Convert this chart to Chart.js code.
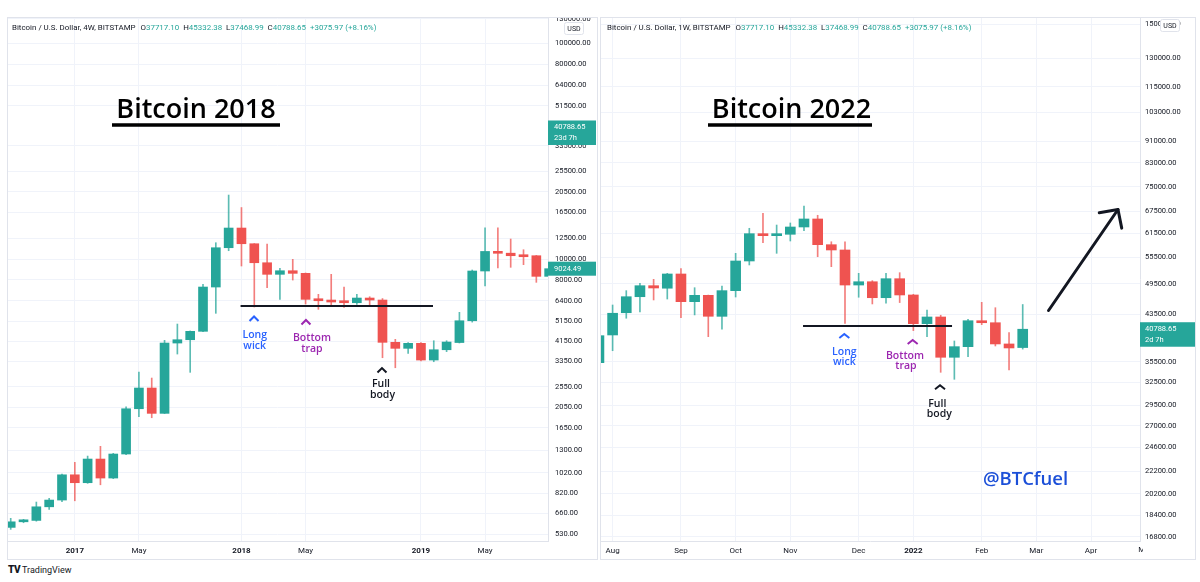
<!DOCTYPE html>
<html><head><meta charset="utf-8">
<script src="https://cdn.jsdelivr.net/npm/chart.js@4.4.1/dist/chart.umd.min.js"></script>
<style>
html,body{margin:0;padding:0;background:#fff;width:1200px;height:582px;overflow:hidden;font-family:Roboto,sans-serif}
canvas{position:absolute;display:block}
#lc{left:7px;top:17px}
#rc{left:600px;top:17px}
#logo{position:absolute;left:8px;top:564px;font:9px Roboto,sans-serif;color:#131722;white-space:nowrap}
#logo b{font-weight:900;font-size:10px;letter-spacing:-0.5px;margin-right:2px}
</style></head><body>
<canvas id="lc" width="591" height="543"></canvas>
<canvas id="rc" width="596" height="543"></canvas>
<div id="logo"><b>TV</b>TradingView</div>
<script>
// ---------- data: left panel (BTC/USD, 4W candles, Aug 2016 - Aug 2019) ----------
const leftOpen  = [569,604,613,709,762,998,917,1181,964,1246,2021,2522,1924,4078,4225,4622,7419,11290,13934,11782,9617,8497,8830,8586,6504,6408,6330,6273,6575,6457,4109,3854,4065,3401,3796,4100,5175,8804,10850,10650,10400,10366,8316];
const leftHigh  = [627,620,746,776,1006,1140,1219,1353,1255,2065,2992,2806,4198,4996,4640,7638,11910,19822,17346,11800,11745,9062,9975,8620,6863,8497,7419,6863,6688,6560,4243,4100,4100,4180,4180,5661,8899,13981,13981,12390,11050,10400,9600];
const leftLow   = [557,598,608,690,748,756,911,897,958,1238,1856,1836,1920,3626,2982,4600,5602,10935,9286,5992,7362,6504,7993,6186,5846,6057,5973,6168,6057,3486,3132,3654,3370,3340,3720,4080,5100,7499,9090,9157,9418,7800,7700];
const leftClose = [604,613,709,762,998,917,1181,964,1246,2021,2522,1924,4078,4225,4622,7419,11290,13934,11782,9617,8497,8830,8586,6504,6408,6320,6273,6596,6457,4109,3854,4065,3401,3796,4122,5175,8804,10850,10637,10366,10255,8316,9024.49];
const leftPriceTicks = [530,660,820,1020,1300,1650,2050,2550,3350,4150,5150,6400,8000,10000,12500,16500,20500,25500,33500,51500,64000,80000,100000,130000];
const leftTimeTickPos = [5,10,18,23,32,37];
const leftTimeTickLabels = ['2017','May','2018','May','2019','May'];

// ---------- data: right panel (BTC/USD, 1W candles, Jul 2021 - Feb 2022) ----------
const rightOpen  = [35360,39800,43770,46870,49130,48600,51650,45890,47150,43100,48100,54600,61360,60840,61200,63140,65340,58540,57230,49270,49970,46670,50620,47220,41770,42980,36180,37860,42300,41940,38300,37717.10];
const rightHigh  = [42300,45240,48100,49630,50490,51800,52830,48710,47200,49070,56420,62790,66950,63670,64230,69070,66380,59280,59280,51800,50200,51800,51940,47360,44280,43300,38790,42550,45760,44720,40190,45332.38];
const rightLow   = [35200,37210,42750,43900,46220,46410,42870,43360,39510,40780,46810,53680,59050,56420,59470,62150,55610,53290,41830,46760,45440,45580,45710,40550,39510,33930,32930,36270,41590,37970,34260,37468.99];
const rightClose = [39680,43670,46870,49130,48650,51650,45890,47150,43110,48100,54600,61360,60840,61200,63140,65340,58540,57230,49270,49970,46670,50620,47220,41770,42980,36180,37860,42300,41940,38300,37650,40788.65];
const rightPriceTicks = [16800,18400,20200,22200,24600,27000,29500,32500,35500,43500,49500,55500,61500,67500,75000,83000,91000,103000,115000,130000,150000];
const rightTimeTickPos = [0,5,9,13,18,22,27,31,35,39];
const rightTimeTickLabels = ['Aug','Sep','Oct','Nov','Dec','2022','Feb','Mar','Apr','May'];

// ---------- styles ----------
const GREEN = '#26a69a', RED = '#ef5350', DARK = '#131722', BLUE = '#2962ff', PURPLE = '#9c27b0';
const GRID = '#f0f3fa', BORDER = '#e0e3eb';
Chart.defaults.font.family = 'Roboto';

function headerParts(tf) {
  return [['Bitcoin / U.S. Dollar, ' + tf + ', BITSTAMP', DARK, 5], ['O', DARK, 0], ['37717.10', GREEN, 4],
          ['H', DARK, 0], ['45332.38', GREEN, 4], ['L', DARK, 0], ['37468.99', GREEN, 4],
          ['C', DARK, 0], ['40788.65', GREEN, 4], ['+3075.97 (+8.16%)', GREEN, 0]];
}

function drawHeader(ctx, x, y, parts, target) {
  ctx.save();
  ctx.font = '8px Roboto';
  let w = 0;
  parts.forEach(p => { w += ctx.measureText(p[0]).width + p[2]; });
  const k = target / w;
  ctx.font = (8 * k).toFixed(2) + 'px Roboto';
  ctx.textBaseline = 'middle'; ctx.textAlign = 'left';
  let cx = x;
  parts.forEach(p => { ctx.fillStyle = p[1]; ctx.fillText(p[0], cx, y); cx += ctx.measureText(p[0]).width + p[2] * k; });
  ctx.restore();
}

function priceBox(ctx, x0, x1, yc, lines, textX) {
  const h = 14 + (lines.length - 1) * 10.5;
  ctx.fillStyle = GREEN;
  ctx.fillRect(x0, yc - 7, x1 - x0, h);
  ctx.fillStyle = '#fff'; ctx.font = '7.5px Roboto'; ctx.textBaseline = 'middle'; ctx.textAlign = 'left';
  lines.forEach((t, i) => ctx.fillText(t, textX, yc + i * 11));
}

function makeOverlay(cfg) {
  return {
    id: 'overlay',
    afterDatasetsDraw(chart) {
      const {ctx, chartArea: ca} = chart;
      const xs = chart.scales.x, ys = chart.scales.y;
      const px = v => xs.getPixelForValue(v), py = v => ys.getPixelForValue(v);
      ctx.save();
      ctx.beginPath(); ctx.rect(ca.left, ca.top, ca.right - ca.left, ca.bottom - ca.top); ctx.clip();
      // support line
      const s = cfg.support;
      ctx.strokeStyle = DARK; ctx.lineWidth = 2;
      ctx.beginPath(); ctx.moveTo(px(s.from), py(s.price)); ctx.lineTo(px(s.to), py(s.price)); ctx.stroke();
      // chevrons + notes
      cfg.marks.forEach(m => {
        const ax = px(m.x), ay = py(m.price);
        ctx.strokeStyle = m.color; ctx.lineWidth = 2; ctx.lineJoin = 'miter';
        ctx.beginPath(); ctx.moveTo(ax - m.hw, ay + m.h); ctx.lineTo(ax, ay); ctx.lineTo(ax + m.hw, ay + m.h); ctx.stroke();
        ctx.fillStyle = m.color; ctx.font = '600 10.5px "Open Sans"'; ctx.textAlign = 'center'; ctx.textBaseline = 'middle';
        m.lines.forEach(l => ctx.fillText(l[0], ax + l[1], ay + l[2]));
      });
      // arrow
      if (cfg.arrow) {
        const a = cfg.arrow;
        const x1 = px(a.from[0]), y1 = py(a.from[1]), x2 = px(a.to[0]), y2 = py(a.to[1]);
        ctx.strokeStyle = DARK; ctx.lineWidth = 3; ctx.lineCap = 'round'; ctx.lineJoin = 'round';
        ctx.beginPath(); ctx.moveTo(x1, y1); ctx.lineTo(x2, y2); ctx.stroke();
        const ang = Math.atan2(y1 - y2, x1 - x2);
        ctx.beginPath();
        ctx.moveTo(x2 + 19 * Math.cos(ang + 0.8), y2 + 19 * Math.sin(ang + 0.8));
        ctx.lineTo(x2, y2);
        ctx.lineTo(x2 + 19 * Math.cos(ang - 0.8), y2 + 19 * Math.sin(ang - 0.8));
        ctx.stroke();
      }
      // title
      const t = cfg.title;
      ctx.fillStyle = '#000'; ctx.font = '600 27px "Open Sans"'; ctx.textAlign = 'center'; ctx.textBaseline = 'alphabetic';
      ctx.fillText(t.text, t.cx, t.base);
      ctx.fillRect(t.u0, t.uy - 1.75, t.u1 - t.u0, 3.5);
      // watermark
      if (cfg.watermark) {
        const w = cfg.watermark;
        ctx.fillStyle = '#1b4fd8'; ctx.font = '600 18.5px "Open Sans"'; ctx.textAlign = 'center'; ctx.textBaseline = 'middle';
        ctx.fillText(w.text, w.cx, w.cy);
      }
      ctx.restore();
    },
    afterDraw(chart) {
      const {ctx, chartArea: ca, width, height} = chart;
      const ys = chart.scales.y, xs = chart.scales.x;
      ctx.save();
      if (cfg.cutLabel) {
        ctx.save();
        ctx.beginPath(); ctx.rect(ca.left, ca.bottom, ca.right + 3 - ca.left, height - ca.bottom); ctx.clip();
        ctx.fillStyle = DARK; ctx.font = '8px Roboto'; ctx.textAlign = 'center'; ctx.textBaseline = 'middle';
        ctx.fillText(cfg.cutLabel[1], xs.getPixelForValue(cfg.cutLabel[0]), ca.bottom + 9);
        ctx.restore();
      }
      cfg.boxes.forEach(b => priceBox(ctx, ca.right, ca.right + cfg.boxW, ys.getPixelForValue(b.value), b.lines, ca.right + cfg.boxText));
      const u = cfg.usd;
      ctx.fillStyle = '#fff'; ctx.strokeStyle = BORDER; ctx.lineWidth = 1;
      ctx.beginPath(); ctx.roundRect(u[0] + 0.5, u[1] + 0.5, 19, 12, 2); ctx.fill(); ctx.stroke();
      ctx.fillStyle = DARK; ctx.font = '7px Roboto'; ctx.textAlign = 'center'; ctx.textBaseline = 'middle';
      ctx.fillText('USD', u[0] + 10, u[1] + 7);
      drawHeader(ctx, cfg.header.x, 11, headerParts(cfg.header.tf), cfg.header.w);
      ctx.strokeStyle = BORDER; ctx.lineWidth = 1;
      ctx.strokeRect(0.5, 0.5, width - 1, height - 1);
      ctx.restore();
    }
  };
}

function makeChart(id, cfg) {
  const idx = i => i + cfg.x0;
  const colors = cfg.open.map((o, i) => cfg.close[i] >= o ? GREEN : RED);
  const wickColors = cfg.open.map((o, i) => cfg.close[i] >= o ? 'rgba(38,166,154,0.75)' : 'rgba(239,83,80,0.75)');
  return new Chart(document.getElementById(id), {
    type: 'bar',
    data: {
      datasets: [
        { label: 'body', data: cfg.open.map((o, i) => ({x: idx(i), y: [o, cfg.close[i]]})),
          backgroundColor: colors, borderWidth: 0, barThickness: cfg.bodyW, minBarLength: 2, grouped: false },
        { label: 'wick', data: cfg.open.map((o, i) => ({x: idx(i), y: [cfg.low[i], cfg.high[i]]})),
          backgroundColor: wickColors, borderWidth: 0, barThickness: 1, grouped: false }
      ]
    },
    options: {
      responsive: false, animation: false, devicePixelRatio: 1, events: [],
      layout: { padding: 0 },
      plugins: { legend: { display: false }, tooltip: { enabled: false } },
      scales: {
        x: {
          type: 'linear', min: cfg.xMin, max: cfg.xMax, offset: false, bounds: 'data',
          grid: { color: GRID, drawTicks: false, offset: false },
          border: { display: true, color: BORDER },
          afterBuildTicks: s => { s.ticks = cfg.timePos.filter(p => p >= cfg.xMin && p <= cfg.xMax).map(v => ({value: v})); },
          ticks: {
            autoSkip: false, maxRotation: 0, minRotation: 0, padding: 5, color: DARK,
            font: c => ({ family: 'Roboto', size: 8, weight: (c.tick && /^\d{4}$/.test(String(c.tick.label))) ? 'bold' : 'normal' }),
            callback: v => { const k = cfg.timePos.indexOf(v); return k >= 0 ? cfg.timeLabels[k] : ''; }
          },
          afterFit: s => { s.height = 19; s.paddingLeft = 0; s.paddingRight = 0; }
        },
        y: {
          type: 'logarithmic', position: 'right', min: cfg.yMin, max: cfg.yMax, bounds: 'data',
          grid: { color: GRID, drawTicks: false },
          border: { display: true, color: BORDER },
          afterBuildTicks: s => { s.ticks = cfg.priceTicks.map(v => ({value: v})); },
          ticks: { autoSkip: false, padding: cfg.yPad, color: DARK, font: { family: 'Roboto', size: 7.5 },
                   callback: v => Number(v).toFixed(2) },
          afterFit: s => { s.width = cfg.yWidth; s.paddingTop = 0; s.paddingBottom = 0; }
        }
      }
    },
    plugins: [makeOverlay(cfg)]
  });
}

makeChart('lc', {
  open: leftOpen, high: leftHigh, low: leftLow, close: leftClose, x0: 0,
  xMin: -0.289, xMax: 41.91, yMin: 492, yMax: 132800, yWidth: 50, yPad: 7, bodyW: 9,
  priceTicks: leftPriceTicks, timePos: leftTimeTickPos, timeLabels: leftTimeTickLabels,
  support: { from: 17.93, to: 32.94, price: 6060 },
  marks: [
    { x: 18.98, price: 5413, color: BLUE, hw: 4.5, h: 4.5, lines: [['Long', 0.7, 18.5], ['wick', 0.7, 29.5]] },
    { x: 23.03, price: 5214, color: PURPLE, hw: 4.5, h: 4.5, lines: [['Bottom', 6, 18], ['trap', 6, 29]] },
    { x: 28.96, price: 3122, color: DARK, hw: 4.5, h: 4.5, lines: [['Full', -1, 16], ['body', 0.5, 27]] }
  ],
  title: { text: 'Bitcoin 2018', cx: 189, base: 101, u0: 105, u1: 273, uy: 108 },
  boxes: [ { value: 40788.65, lines: ['40788.65', '23d 7h'] }, { value: 9024.49, lines: ['9024.49'] } ],
  boxW: 48, boxText: 6, usd: [557, 5],
  header: { x: 5, tf: '4W', w: 365 }
});

makeChart('rc', {
  open: rightOpen, high: rightHigh, low: rightLow, close: rightClose, x0: -1,
  xMin: -0.922, xMax: 38.58, yMin: 16500, yMax: 154900, yWidth: 56, yPad: 5, bodyW: 10,
  priceTicks: rightPriceTicks, timePos: rightTimeTickPos, timeLabels: rightTimeTickLabels,
  cutLabel: [39, 'May'],
  support: { from: 13.93, to: 24.83, price: 41350 },
  marks: [
    { x: 16.95, price: 39960, color: BLUE, hw: 5, h: 4, lines: [['Long', 0, 18.3], ['wick', 0, 28.3]] },
    { x: 21.95, price: 38960, color: PURPLE, hw: 5, h: 4, lines: [['Bottom', -7.7, 15.7], ['trap', -6.7, 25.7]] },
    { x: 23.95, price: 32100, color: DARK, hw: 5, h: 4, lines: [['Full', -2.7, 18.4], ['body', -0.7, 28.7]] }
  ],
  arrow: { from: [31.89, 44190], to: [36.97, 68040] },
  title: { text: 'Bitcoin 2022', cx: 191.5, base: 101, u0: 108, u1: 272, uy: 108 },
  watermark: { text: '@BTCfuel', cx: 425.5, cy: 463 },
  boxes: [ { value: 40788.65, lines: ['40788.65', '2d 7h'] } ],
  boxW: 55, boxText: 5, usd: [560, 2],
  header: { x: 7, tf: '1W', w: 365 }
});
</script>
</body></html>
